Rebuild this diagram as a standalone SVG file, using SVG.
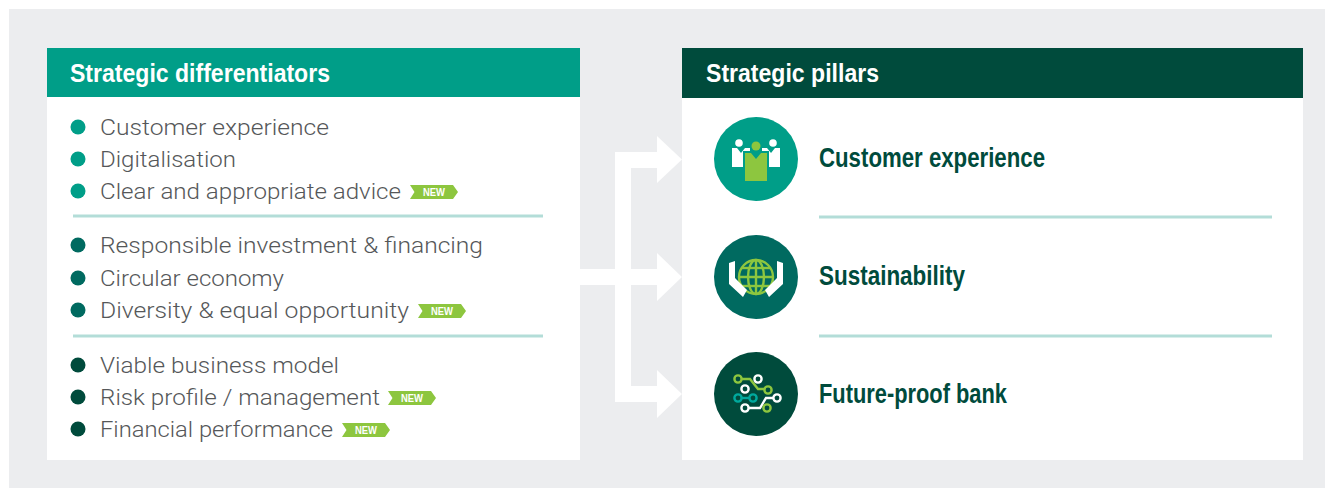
<svg xmlns="http://www.w3.org/2000/svg" width="1325" height="488" viewBox="0 0 1325 488">
<style>
.bg{fill:#ecedef}
.panel{fill:#ffffff}
.hdr{font-family:'Liberation Sans',Arial,sans-serif;font-weight:bold;font-size:26px;fill:#ffffff}
.item{font-family:Roboto,'Open Sans','Liberation Sans',sans-serif;font-weight:300;font-size:22px;fill:#555759}
.pillar{font-family:'Liberation Sans',Arial,sans-serif;font-weight:bold;font-size:27px;fill:#004b3c}
.sep{stroke:#b3ddd8;stroke-width:3}
.b1{fill:#009e88}
.b2{fill:#006a60}
.b3{fill:#004b3c}
.badge{fill:#8dc63f}
.badgetxt{font-family:'Liberation Sans',Arial,sans-serif;font-weight:bold;font-size:11px;fill:#ffffff}
.arrow{fill:#ffffff}
.ring{fill:none;stroke-width:2.4}
.ln{fill:none;stroke-width:2.4}
</style>
<defs>
<g id="new">
<path class="badge" d="M0,0 H43 L48,7 L43,14 H0 L4.5,7 Z"/>
<text class="badgetxt" x="24" y="11" text-anchor="middle" textLength="22" lengthAdjust="spacingAndGlyphs">NEW</text>
</g>
</defs>
<rect class="bg" x="9" y="9" width="1316" height="479"/>

<g id="connectors">
<path class="arrow" d="M615,152 H657 V136 L682,159.5 L657,183 V168 H631 V269 H657 V253 L682,277 L657,301 V285 H631 V386 H657 V370 L682,394 L657,418 V402 H615 V285 H576 V269 H615 Z"/>
</g>

<g id="differentiators">
<rect class="panel" x="47" y="97" width="533" height="363"/>
<rect class="b1" x="47" y="48" width="533" height="49"/>
<text class="hdr" x="70" y="82" textLength="260" lengthAdjust="spacingAndGlyphs">Strategic differentiators</text>

<g id="group-customer">
<circle class="b1" cx="78" cy="127" r="7.5"/>
<text class="item" x="100" y="134.5" textLength="229" lengthAdjust="spacingAndGlyphs">Customer experience</text>
<circle class="b1" cx="78" cy="159" r="7.5"/>
<text class="item" x="100" y="166.5" textLength="136" lengthAdjust="spacingAndGlyphs">Digitalisation</text>
<circle class="b1" cx="78" cy="191" r="7.5"/>
<text class="item" x="100" y="198.5" textLength="301" lengthAdjust="spacingAndGlyphs">Clear and appropriate advice</text>
<use href="#new" x="410" y="185"/>
</g>
<line class="sep" x1="73" y1="216" x2="543" y2="216"/>

<g id="group-sustainability">
<circle class="b2" cx="78" cy="245" r="7.5"/>
<text class="item" x="100" y="252.5" textLength="383" lengthAdjust="spacingAndGlyphs">Responsible investment &amp; financing</text>
<circle class="b2" cx="78" cy="278" r="7.5"/>
<text class="item" x="100" y="285.5" textLength="184" lengthAdjust="spacingAndGlyphs">Circular economy</text>
<circle class="b2" cx="78" cy="310" r="7.5"/>
<text class="item" x="100" y="317.5" textLength="309" lengthAdjust="spacingAndGlyphs">Diversity &amp; equal opportunity</text>
<use href="#new" x="418" y="304"/>
</g>
<line class="sep" x1="73" y1="336" x2="543" y2="336"/>

<g id="group-bank">
<circle class="b3" cx="78" cy="365" r="7.5"/>
<text class="item" x="100" y="372.5" textLength="239" lengthAdjust="spacingAndGlyphs">Viable business model</text>
<circle class="b3" cx="78" cy="397" r="7.5"/>
<text class="item" x="100" y="404.5" textLength="280" lengthAdjust="spacingAndGlyphs">Risk profile / management</text>
<use href="#new" x="388" y="391"/>
<circle class="b3" cx="78" cy="429" r="7.5"/>
<text class="item" x="100" y="436.5" textLength="233" lengthAdjust="spacingAndGlyphs">Financial performance</text>
<use href="#new" x="342" y="423"/>
</g>
</g>

<g id="pillars">
<rect class="panel" x="682" y="97" width="621" height="363"/>
<rect class="b3" x="682" y="48" width="621" height="50"/>
<text class="hdr" x="706" y="82" textLength="173" lengthAdjust="spacingAndGlyphs">Strategic pillars</text>
<line class="sep" x1="819" y1="217" x2="1272" y2="217"/>
<line class="sep" x1="819" y1="336" x2="1272" y2="336"/>

<g id="pillar-customer">
<circle class="b1" cx="756" cy="159" r="42"/>
<g transform="translate(756,159)">
<circle cx="-17" cy="-16" r="3.8" fill="#ffffff"/>
<circle cx="17" cy="-16" r="3.8" fill="#ffffff"/>
<path fill="#ffffff" d="M-24,-11 H-19 L-15,-6 L-11,-11 H-6 V8 H-24 Z"/>
<path fill="#ffffff" d="M6,-11 H11 L15,-6 L19,-11 H24 V8 H6 Z"/>
<path fill="#009e88" d="M-13,-8 H13 V24 H-13 Z"/>
<circle cx="0" cy="-13" r="4.5" fill="#8dc63f"/>
<path fill="#8dc63f" d="M-11,-6 H-5 L0,0 L5,-6 H11 V22 H-11 Z"/>
</g>
<text class="pillar" x="819" y="167" textLength="226" lengthAdjust="spacingAndGlyphs">Customer experience</text>
</g>

<g id="pillar-sustainability">
<circle class="b2" cx="756" cy="277" r="42"/>
<g transform="translate(756,277)" stroke="#8dc63f" stroke-width="2.4" fill="none">
<circle r="17"/>
<ellipse rx="8" ry="17"/>
<line x1="0" y1="-17" x2="0" y2="17"/>
<line x1="-17" y1="0" x2="17" y2="0"/>
<line x1="-14" y1="-9" x2="14" y2="-9"/>
<line x1="-14" y1="9" x2="14" y2="9"/>
</g>
<g transform="translate(756,277)" fill="#ffffff">
<path d="M-27,-14 L-21,-16 V1 L-9,13 L-13,20 L-27,7 Z"/>
<path d="M27,-14 L21,-16 V1 L9,13 L13,20 L27,7 Z"/>
</g>
<text class="pillar" x="819" y="285" textLength="146" lengthAdjust="spacingAndGlyphs">Sustainability</text>
</g>

<g id="pillar-bank">
<circle class="b3" cx="756" cy="394" r="42"/>
<g transform="translate(756,393)">
<path class="ln" stroke="#8dc63f" d="M-14,-14 H-6 L2,-4 H8"/>
<circle class="ring" stroke="#8dc63f" cx="-18" cy="-14" r="3.6"/>
<circle class="ring" stroke="#8dc63f" cx="12" cy="-3" r="3.6"/>
<circle class="ring" stroke="#ffffff" cx="2" cy="-14" r="3.6"/>
<circle class="ring" stroke="#ffffff" cx="-11" cy="-4" r="3.6"/>
<path class="ln" stroke="#00a99d" d="M-14,5 H-7"/>
<circle class="ring" stroke="#00a99d" cx="-18" cy="5" r="3.6"/>
<circle class="ring" stroke="#00a99d" cx="-3" cy="5" r="3.6"/>
<path class="ln" stroke="#ffffff" d="M-7,15 H4 L10,5 H17"/>
<circle class="ring" stroke="#ffffff" cx="-11" cy="15" r="3.6"/>
<circle class="ring" stroke="#ffffff" cx="21" cy="5" r="3.6"/>
<circle class="ring" stroke="#8dc63f" cx="11" cy="15" r="3.6"/>
</g>
<text class="pillar" x="819" y="403" textLength="188" lengthAdjust="spacingAndGlyphs">Future-proof bank</text>
</g>
</g>
</svg>
